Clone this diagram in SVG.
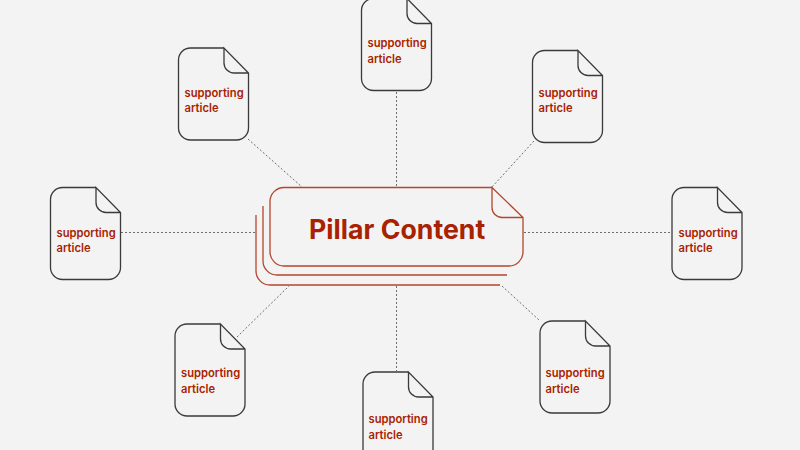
<svg xmlns="http://www.w3.org/2000/svg" width="800" height="450" viewBox="0 0 800 450">
<style>
text{font-family:Inter,"Liberation Sans",sans-serif;fill:#a82200}
.s{font-size:11.2px;font-weight:600}
.c line{stroke:#6e6e6e;stroke-width:1;stroke-dasharray:2 2;fill:none}
.d{fill:none;stroke:#3a3a3a;stroke-width:1.3}
.p{fill:none;stroke:#b5452c;stroke-width:1.3}
</style>
<defs>
<g id="doc">
<path class="d" d="M45.500 0H12A12 12 0 0 0 0 12V80A12 12 0 0 0 12 92H58A12 12 0 0 0 70 80V25L45.500 0V15A10 10 0 0 0 55.500 25H70"/>
</g>
</defs>
<rect width="800" height="450" fill="#f4f3f3"/>
<g class="c" id="connectors">
<line x1="396.500" y1="92" x2="396.500" y2="187"/>
<line x1="248" y1="139" x2="302" y2="187"/>
<line x1="534" y1="141" x2="492" y2="187"/>
<line x1="121" y1="232.500" x2="256" y2="232.500"/>
<line x1="524" y1="232.500" x2="671" y2="232.500"/>
<line x1="237" y1="337" x2="289" y2="286"/>
<line x1="396.500" y1="286" x2="396.500" y2="371"/>
<line x1="502" y1="286" x2="539" y2="320"/>
</g>
<g id="pillar">
<path class="p" d="M492 187.500H284A14 14 0 0 0 270 201.500V252A14 14 0 0 0 284 266H509A14 14 0 0 0 523 252V217.500L492 187.500V207.500A10 10 0 0 0 502 217.500H523"/>
<path class="p" d="M263 206V261A14 14 0 0 0 277 275H507"/>
<path class="p" d="M256 215V271A14 14 0 0 0 270 285H500"/>
<text x="309" y="238.500" font-size="26.700" font-weight="700">Pillar Content</text>
</g>
<g id="doc-top"><use href="#doc" x="361.500" y="-1.500"/><text class="s" x="367.500" y="47">supporting</text><text class="s" x="367.500" y="62.500">article</text></g>
<g id="doc-top-left"><use href="#doc" x="178.500" y="48"/><text class="s" x="184.500" y="96.500">supporting</text><text class="s" x="184.500" y="112">article</text></g>
<g id="doc-top-right"><use href="#doc" x="532.500" y="50.500"/><text class="s" x="538.500" y="96.500">supporting</text><text class="s" x="538.500" y="112">article</text></g>
<g id="doc-left"><use href="#doc" x="50.500" y="187.500"/><text class="s" x="56.500" y="236.500">supporting</text><text class="s" x="56.500" y="252">article</text></g>
<g id="doc-right"><use href="#doc" x="672" y="187.500"/><text class="s" x="678.500" y="236.500">supporting</text><text class="s" x="678.500" y="252">article</text></g>
<g id="doc-bottom-left"><use href="#doc" x="175" y="324"/><text class="s" x="181" y="377">supporting</text><text class="s" x="181" y="392.500">article</text></g>
<g id="doc-bottom"><use href="#doc" x="363" y="372"/><text class="s" x="368.500" y="423">supporting</text><text class="s" x="368.500" y="438.500">article</text></g>
<g id="doc-bottom-right"><use href="#doc" x="540" y="321"/><text class="s" x="545.500" y="377">supporting</text><text class="s" x="545.500" y="392.500">article</text></g>
</svg>
